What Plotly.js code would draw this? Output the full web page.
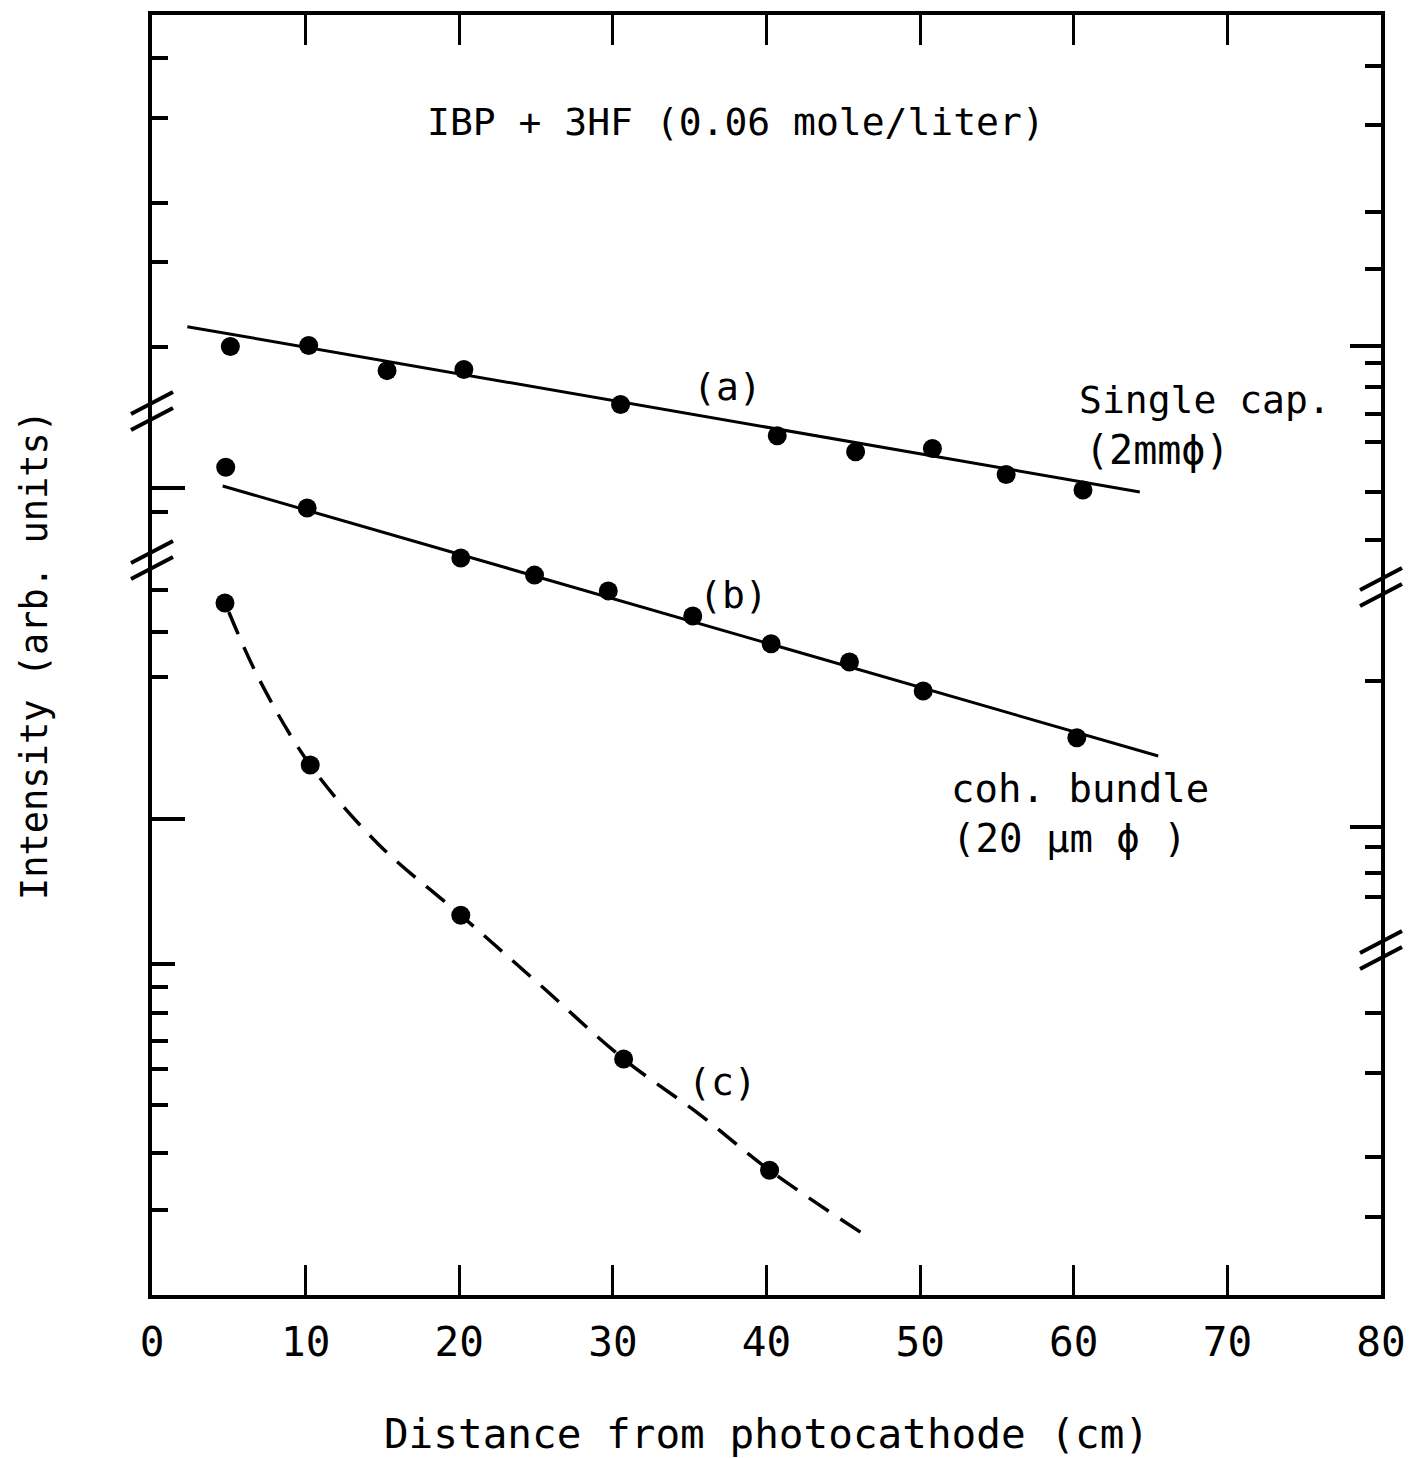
<!DOCTYPE html>
<html>
<head>
<meta charset="utf-8">
<script src="https://cdn.plot.ly/plotly-3.0.1.min.js"></script>
<style>html,body{margin:0;padding:0;background:#fff;}#chart{width:1420px;height:1458px;}</style>
</head>
<body>
<div id="chart"></div>
<script>
// ---- data (arbitrary intensity units on a log scale) ----
const distA   = [5.1, 10.2, 15.3, 20.3, 30.5, 40.7, 45.8, 50.8, 55.6, 60.6];
const intensA = [20.6, 20.7, 18.3, 18.4, 15.5, 13.3, 12.3, 12.5, 11.0, 10.2];
const fitAx   = [2.3, 64.3];
const fitAy   = [22.7, 10.1];

const distB   = [4.8, 10.1, 20.1, 24.9, 29.7, 35.2, 40.3, 45.4, 50.2, 60.2];
const intensB = [11.4, 9.34, 7.31, 6.72, 6.22, 5.50, 4.80, 4.39, 3.81, 3.03];
const fitBx   = [4.6, 65.5];
const fitBy   = [10.4, 2.77];

const distC   = [4.75, 10.3, 20.1, 30.7, 40.2];
const intensC = [5.86, 2.65, 1.27, 0.628, 0.364];
const curveCx = [5.0, 7.0, 10.3, 14.8, 20.1, 25.3, 30.7, 35.7, 40.2, 46.4];
const curveCy = [5.61, 4.02, 2.65, 1.79, 1.27, 0.90, 0.628, 0.477, 0.364, 0.265];

const xTickVals  = [0, 10, 20, 30, 40, 50, 60, 70, 80];
const xTickText  = ["0", "10", "20", "30", "40", "50", "60", "70", "80"];
const leftShort  = [84.7, 63.1, 41.6, 31.2, 20.5, 9.16, 6.25, 5.09, 4.08, 0.893, 0.787, 0.686, 0.598, 0.501, 0.396, 0.300];
const leftLong   = [10.3, 2.03];
const leftMid    = [1.0];
const rightShort = [81.4, 61.0, 39.8, 30.1, 19.0, 16.9, 14.8, 12.9, 10.1, 7.98, 4.0, 1.77, 1.56, 1.39, 0.787, 0.586, 0.388, 0.289];
const rightLong  = [20.6, 1.96];

// ---- styling ----
const FONT = "DejaVu Sans Mono, Liberation Mono, monospace";
const yRange = [-0.7043, 2.0191];
const mk = {color: "#000", size: 19};

// every y axis shares the same log range, so the traces are spread over them
// only to make each tick set get drawn
const traces = [
  {x: fitAx, y: fitAy, yaxis: "y2", mode: "lines", line: {color: "#000", width: 3}, hoverinfo: "skip"},
  {x: distA, y: intensA, yaxis: "y3", mode: "markers", marker: mk, name: "(a) Single cap."},
  {x: fitBx, y: fitBy, yaxis: "y4", mode: "lines", line: {color: "#000", width: 3}, hoverinfo: "skip"},
  {x: distB, y: intensB, yaxis: "y5", mode: "markers", marker: mk, name: "(b) coh. bundle"},
  {x: curveCx, y: curveCy, mode: "lines", line: {color: "#000", width: 3.5, dash: "24px,14px", shape: "spline", smoothing: 1}, hoverinfo: "skip"},
  {x: distC, y: intensC, mode: "markers", marker: mk, name: "(c)"}
];

function yTicks(extra) {
  return Object.assign({
    type: "log", range: yRange, autorange: false, showgrid: false, zeroline: false,
    ticks: "inside", tickcolor: "#000", tickwidth: 4, showticklabels: false,
    tickmode: "array", fixedrange: true
  }, extra);
}

function brk(xp, yc) {
  // two short parallel slashes centred on an axis (pixel sized)
  const out = [];
  [-8, 8].forEach(function (d) {
    out.push({type: "line", xref: "paper", yref: "paper", xsizemode: "pixel", ysizemode: "pixel",
      xanchor: xp, yanchor: yc, x0: -21, x1: 21, y0: d - 11, y1: d + 11,
      line: {color: "#000", width: 4}});
  });
  return out;
}
const P = function (py) { return (1295 - py) / 1280; };
const shapes = [].concat(brk(0, P(411)), brk(0, P(560)), brk(1, P(587)), brk(1, P(950)));

const ann = function (text, px, py, size) {
  return {text: text, xref: "paper", yref: "paper", x: (px - 152) / 1229, y: P(py),
    xanchor: "center", yanchor: "middle", showarrow: false,
    font: {family: FONT, size: size || 38, color: "#000"}};
};

const layout = {
  width: 1420, height: 1458,
  margin: {l: 152, r: 39, t: 15, b: 163},
  paper_bgcolor: "#fff", plot_bgcolor: "#fff",
  showlegend: false,
  font: {family: FONT, color: "#000"},
  xaxis: {
    range: [0, 80], tickmode: "array", tickvals: xTickVals, ticktext: xTickText,
    ticks: "inside", ticklen: 30, tickwidth: 3, tickcolor: "#000",
    showline: true, linewidth: 4, linecolor: "#000", mirror: "ticks",
    showgrid: false, zeroline: false, fixedrange: true,
    ticklabelstandoff: 8,
    tickfont: {family: FONT, size: 41, color: "#000"},
    title: {text: "Distance from photocathode (cm)", font: {family: FONT, size: 41, color: "#000"}, standoff: 58}
  },
  yaxis: yTicks({
    tickvals: leftShort, ticklen: 16, showline: true, linewidth: 4, linecolor: "#000",
    title: {text: "Intensity (arb. units)", font: {family: FONT, size: 37, color: "#000"}, standoff: 90}
  }),
  yaxis2: yTicks({overlaying: "y", side: "right", anchor: "x", tickvals: rightShort, ticklen: 16,
    showline: true, linewidth: 4, linecolor: "#000"}),
  yaxis3: yTicks({overlaying: "y", side: "left", anchor: "x", tickvals: leftLong, ticklen: 33}),
  yaxis4: yTicks({overlaying: "y", side: "left", anchor: "x", tickvals: leftMid, ticklen: 23}),
  yaxis5: yTicks({overlaying: "y", side: "right", anchor: "x", tickvals: rightLong, ticklen: 31}),
  shapes: shapes,
  annotations: [
    ann("IBP + 3HF (0.06 mole/liter)", 736, 122, 38),
    ann("(a)", 727, 387, 38),
    ann("Single cap.", 1205, 400, 38),
    ann("(2mmϕ)", 1157, 450, 40),
    ann("(b)", 733, 595, 38),
    ann("coh. bundle", 1080, 788, 39),
    ann("(20 µm ϕ )", 1069, 838, 39),
    ann("(c)", 722, 1082, 38)
  ]
};

Plotly.newPlot("chart", traces, layout, {staticPlot: true, displayModeBar: false});
</script>
</body>
</html>
